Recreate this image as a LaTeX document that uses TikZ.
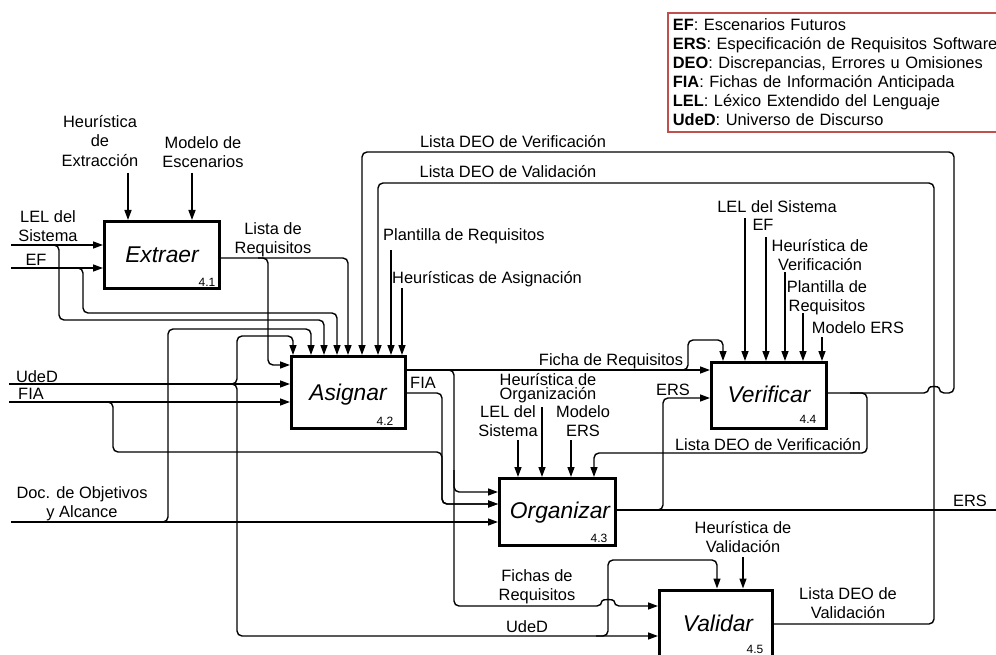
\documentclass[tikz,border=0pt]{standalone}
\usepackage{fontspec}
\setmainfont{Liberation Sans}
\usetikzlibrary{arrows.meta}
\newcommand\lblfont{\fontsize{16.4}{19.5}\selectfont}
\newcommand\tightfont{\fontsize{16.4}{14.5}\selectfont}
\newcommand\legfont{\fontsize{16.4}{19}\selectfont}
\newcommand\ttlfont{\fontsize{22.8}{26}\selectfont\itshape}
\newcommand\numfont{\fontsize{12}{14}\selectfont}
\definecolor{legred}{RGB}{192,80,77}
\begin{document}
\begin{tikzpicture}[x=1pt,y=-1pt,
  fn/.style={draw, line width=3pt, inner sep=0pt},
  ttl/.style={font=\ttlfont, anchor=base, inner sep=0pt},
  num/.style={font=\numfont, anchor=base, inner sep=0pt},
  lab/.style={font=\lblfont, align=center, inner sep=0pt},
  lab1/.style={font=\lblfont, inner sep=0pt, text height=11.5pt, text depth=0pt},
  wire/.style={line width=1.4pt, rounded corners=5pt},
  arr/.style={wire, -{Triangle[length=10pt,width=7pt]}},
]
\useasboundingbox (0,0) rectangle (996,655);
\clip (0,0) rectangle (996,655);
\fill[white] (0,0) rectangle (996,655);

% ---------- function boxes ----------
\node[fn, minimum width=115pt, minimum height=67pt] (ext) at (162,255) {};
\node[fn, minimum width=114pt, minimum height=72pt] (asg) at (348.5,392.5) {};
\node[fn, minimum width=115pt, minimum height=66pt] (ver) at (769,395.5) {};
\node[fn, minimum width=116pt, minimum height=67pt] (org) at (557.5,512) {};
\node[fn, minimum width=113pt, minimum height=72pt] (val) at (716,626) {};

\node[ttl] (t-ext) at (162,262) {Extraer};
\node[ttl] (t-asg) at (348,400) {Asignar};
\node[ttl] (t-ver) at (769,402) {Verificar};
\node[ttl] (t-org) at (560,518) {Organizar};
\node[ttl] (t-val) at (718,631) {Validar};
\node[num] (n-ext) at (207,286) {4.1};
\node[num] (n-asg) at (385,425) {4.2};
\node[num] (n-org) at (599,542) {4.3};
\node[num] (n-ver) at (808,423) {4.4};
\node[num] (n-val) at (755,653) {4.5};

% ---------- labels ----------
\node[lab] (l-hext) at (100,141) {Heurística\\de\\Extracción};
\node[lab] (l-mesc) at (203,152) {Modelo de\\Escenarios};
\node[lab] (l-lel1) at (48,226) {LEL del\\Sistema};
\node[lab1] (l-ef1) at (36,260) {EF};
\node[lab] (l-lreq) at (273,240) {Lista de\\Requisitos};
\node[lab1] (l-dver) at (513,142) {Lista DEO de Verificación};
\node[lab1] (l-dval) at (508,172) {Lista DEO de Validación};
\node[lab1, anchor=west] (l-plan) at (383,235) {Plantilla de Requisitos};
\node[lab1, anchor=west] (l-hasi) at (392,278) {Heurísticas de Asignación};
\node[lab1] (l-uded1) at (37,377) {UdeD};
\node[lab1] (l-fia1) at (31,394) {FIA};
\node[lab1] (l-fia2) at (423,383) {FIA};
\node[lab] (l-doc) at (82,504) {Doc. de Objetivos\\y Alcance};
\node[lab1] (l-ficha) at (611,360) {Ficha de Requisitos};
\node[lab, font=\tightfont] (l-horg) at (548,388) {Heurística de\\Organización};
\node[lab] (l-lel2) at (508,421) {LEL del\\Sistema};
\node[lab] (l-mers1) at (583,421) {Modelo\\ERS};
\node[lab1] (l-ers1) at (673,390) {ERS};
\node[lab1] (l-dver2) at (768,445) {Lista DEO de Verificación};
\node[lab1] (l-ers2) at (970,501) {ERS};
\node[lab1] (l-lel3) at (777,207) {LEL del Sistema};
\node[lab1] (l-ef3) at (763,225) {EF};
\node[lab] (l-hver) at (820,255) {Heurística de\\Verificación};
\node[lab] (l-plan3) at (827,298) {Plantilla de\\Requisitos};
\node[lab1] (l-mers3) at (858,328) {Modelo ERS};
\node[lab] (l-hval) at (743,537) {Heurística de\\Validación};
\node[lab] (l-fichas) at (537,587) {Fichas de\\Requisitos};
\node[lab1] (l-uded2) at (527,627) {UdeD};
\node[lab] (l-dval2) at (848,603) {Lista DEO de\\Validación};

% ---------- legend ----------
\node[draw=legred, line width=1.8pt, anchor=north west, inner xsep=5pt, inner ysep=6pt,
      text width=335pt, align=left, font=\legfont] (legend) at (667,12)
 {\textbf{EF}: Escenarios Futuros\\
  \textbf{ERS}: Especificación de Requisitos Software\\
  \textbf{DEO}: Discrepancias, Errores u Omisiones\\
  \textbf{FIA}: Fichas de Información Anticipada\\
  \textbf{LEL}: Léxico Extendido del Lenguaje\\
  \textbf{UdeD}: Universo de Discurso};

% ---------- free ends ----------
\coordinate (in-lel) at (11,245);
\coordinate (in-ef) at (11,268);
\coordinate (in-uded) at (9,384);
\coordinate (in-fia) at (9,402);
\coordinate (in-doc) at (11,522);
\coordinate (out-ers) at (1006,510);

% ---------- Extraer ----------
\draw[arr] (in-lel) -- (in-lel -| ext.west);
\draw[arr] (in-ef) -- (in-ef -| ext.west);
\draw[arr] (128,173) -- (128,0 |- ext.north);
\draw[arr] (192,173) -- (192,0 |- ext.north);
\draw[arr] (ext.east |- 0,258) -- (348,258) -- (348,0 |- asg.north);
\draw[arr] (258,258) -| (268,365) -- (asg.west |- 0,365);

% ---------- Asignar inputs / controls ----------
\draw[arr] (50,245) -| (59,320) -| (324,0 |- asg.north);
\draw[arr] (74,268) -| (83,313) -| (337,0 |- asg.north);
\draw[arr] (in-uded) -- (asg.west |- in-uded);
\draw[arr] (226,384) -| (237,336) -| (293,0 |- asg.north);
\draw[arr] (226,384) -| (237,636) -- (val.west |- 0,636);
\draw[arr] (in-fia) -- (asg.west |- in-fia);
\draw[arr] (100,402) -| (113,452) -| (442,504) -- (org.west |- 0,504);
\draw[arr] (in-doc) -- (org.west |- in-doc);
\draw[arr] (156,522) -| (168,329) -| (311,0 |- asg.north);
\draw[arr] (391,250) -- (391,0 |- asg.north);
\draw[arr] (402,288) -- (402,0 |- asg.north);

% ---------- Asignar outputs ----------
\draw[arr] (asg.east |- 0,370) -- (ver.west |- 0,370);
\draw[arr] (asg.east |- 0,393) -| (442,504) -- (org.west |- 0,504);
\draw[arr] (444,370) -| (454,606) -- (602,606) .. controls (602,599) and (614,599) .. (614,606) -- (val.west |- 0,606);
\draw[arr] (454,470) |- (org.west |- 0,492);
\draw[arr] (678,370) -| (688,340) -| (723,0 |- ver.north);

% ---------- Organizar ----------
\draw[arr] (518,440) -- (518,0 |- org.north);
\draw[arr] (542,407) -- (542,0 |- org.north);
\draw[arr] (571,440) -- (571,0 |- org.north);
\draw[arr] (org.east |- 0,510) -- (out-ers);
\draw[arr] (652,510) -| (663,398) -- (ver.west |- 0,398);

% ---------- Verificar ----------
\draw[arr] (745,218) -- (745,0 |- ver.north);
\draw[arr] (766,237) -- (766,0 |- ver.north);
\draw[arr] (785,272) -- (785,0 |- ver.north);
\draw[arr] (803,313) -- (803,0 |- ver.north);
\draw[arr] (822,337) -- (822,0 |- ver.north);
\draw[arr] (ver.east |- 0,393) -- (929,393) .. controls (929,386) and (939,386) .. (939,393) -- (954,393) -- (954,152) -- (362,152) -- (362,0 |- asg.north);
\draw[arr] (850,393) -| (867,453) -| (594,0 |- org.north);

% ---------- Validar ----------
\draw[arr] (596,636) -| (608,560) -| (717,0 |- val.north);
\draw[arr] (743,557) -- (743,0 |- val.north);
\draw[arr] (val.east |- 0,624) -| (934,183) -| (378,0 |- asg.north);
\end{tikzpicture}
\end{document}
